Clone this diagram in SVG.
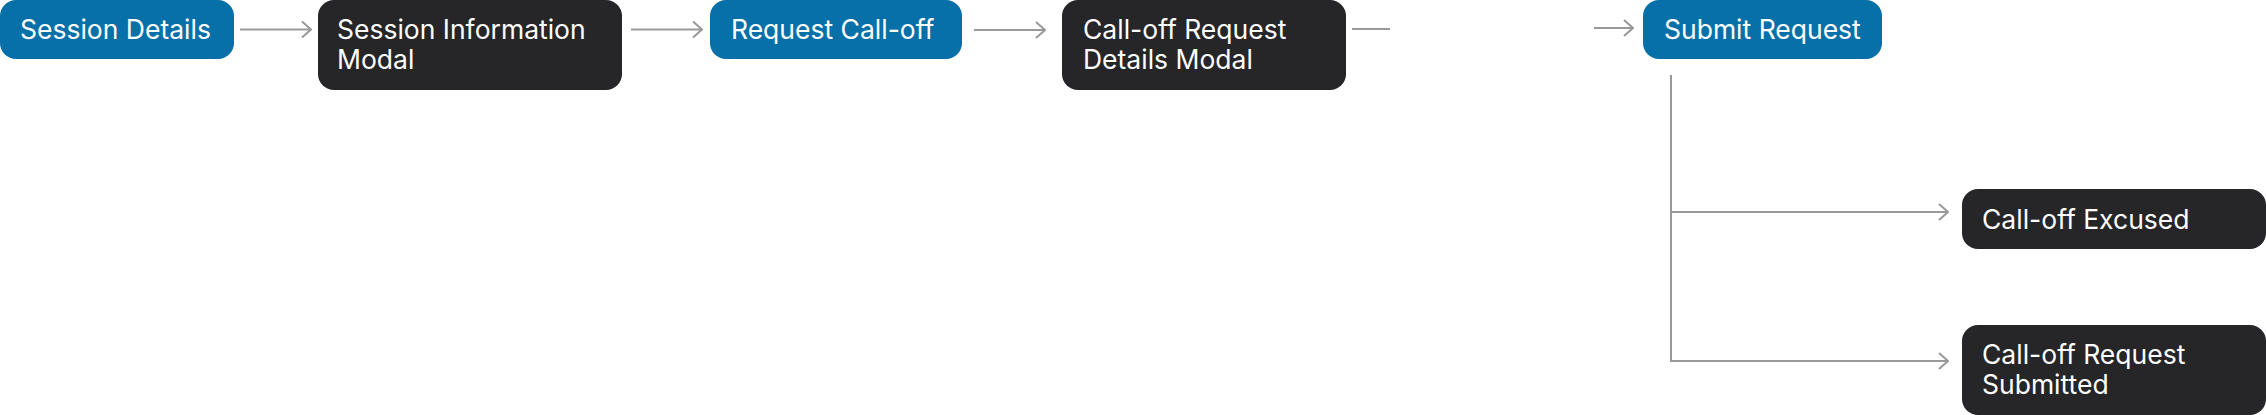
<svg xmlns="http://www.w3.org/2000/svg" width="2266" height="415" viewBox="0 0 2266 415">
<style>
.blue{fill:#0870A8}
.dark{fill:#262528}
.t{font-family:Inter,"Noto Sans",sans-serif;font-size:26.5px;fill:#ffffff}
.c{stroke:#999999;stroke-width:2;fill:none}
</style>
<defs>
<marker id="ah" viewBox="0 0 12 20" markerWidth="12" markerHeight="20" refX="11" refY="10" orient="auto" markerUnits="userSpaceOnUse">
<path d="M2,2 L11,10 L2,18" fill="none" stroke="#999999" stroke-width="2"/>
</marker>
</defs>
<rect width="2266" height="415" fill="#ffffff"/>
<g id="connectors">
<line class="c" x1="240" y1="29.5" x2="311" y2="29.5" marker-end="url(#ah)"/>
<line class="c" x1="631" y1="29.5" x2="702" y2="29.5" marker-end="url(#ah)"/>
<line class="c" x1="974" y1="30" x2="1045" y2="30" marker-end="url(#ah)"/>
<line class="c" x1="1352" y1="29" x2="1390" y2="29"/>
<line class="c" x1="1594" y1="28" x2="1633" y2="28" marker-end="url(#ah)"/>
<polyline class="c" points="1671,75 1671,361 1948,361" marker-end="url(#ah)"/>
<line class="c" x1="1671" y1="212" x2="1948" y2="212" marker-end="url(#ah)"/>
</g>
<g id="session-details">
<rect class="blue" x="0" y="0" width="234" height="59" rx="16"/>
<text class="t" x="20" y="39">Session Details</text>
</g>
<g id="session-information-modal">
<rect class="dark" x="318" y="0" width="304" height="90" rx="16"/>
<text class="t" x="337" y="39">Session Information</text>
<text class="t" x="337" y="69">Modal</text>
</g>
<g id="request-call-off">
<rect class="blue" x="710" y="0" width="252" height="59" rx="16"/>
<text class="t" x="731" y="39">Request Call-off</text>
</g>
<g id="call-off-request-details-modal">
<rect class="dark" x="1062" y="0" width="284" height="90" rx="16"/>
<text class="t" x="1083" y="39">Call-off Request</text>
<text class="t" x="1083" y="69">Details Modal</text>
</g>
<g id="submit-request">
<rect class="blue" x="1643" y="0" width="239" height="59" rx="16"/>
<text class="t" x="1664" y="39">Submit Request</text>
</g>
<g id="call-off-excused">
<rect class="dark" x="1962" y="189" width="304" height="60" rx="16"/>
<text class="t" x="1982" y="229">Call-off Excused</text>
</g>
<g id="call-off-request-submitted">
<rect class="dark" x="1962" y="325" width="304" height="90" rx="16"/>
<text class="t" x="1982" y="364">Call-off Request</text>
<text class="t" x="1982" y="394">Submitted</text>
</g>
</svg>
